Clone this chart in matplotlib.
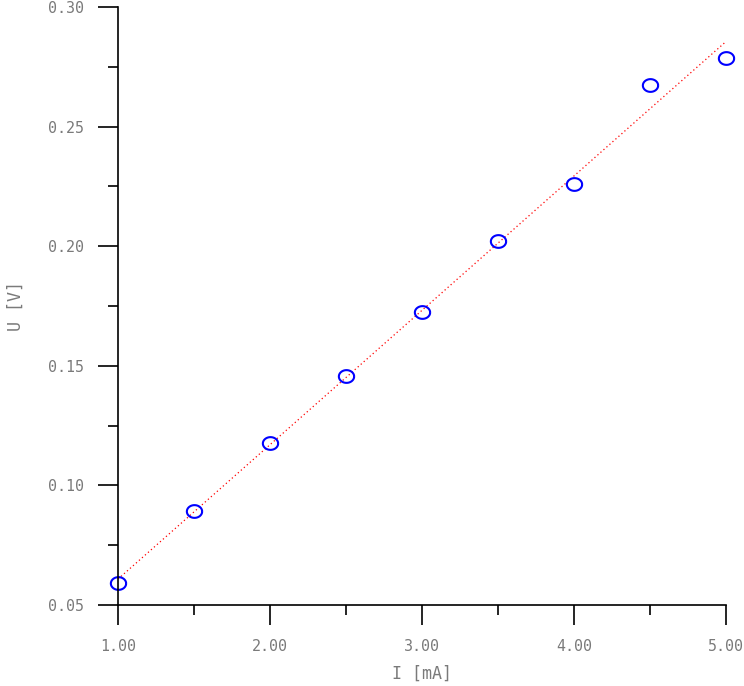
import matplotlib.pyplot as plt
import numpy as np
from matplotlib.path import Path
from matplotlib.ticker import MultipleLocator, FormatStrFormatter

# measured current [mA] and voltage [V]
current = [1.0, 1.5, 2.0, 2.5, 3.0, 3.5, 4.0, 4.5, 5.0]
voltage = [0.0592, 0.0893, 0.1177, 0.1457, 0.1725, 0.2022, 0.2260, 0.2674, 0.2787]

# linear fit through the measurements
slope, intercept = np.polyfit(current, voltage, 1)
fit_x = np.array([1.0, 5.0])
fit_y = slope * fit_x + intercept

# flattened circle marker
t = np.linspace(0, 2 * np.pi, 60)
ellipse = Path(np.column_stack([1.2 * np.cos(t), np.sin(t)]))

label_font = dict(family="DejaVu Sans Mono", size=12, color="#7a7a7a")

fig = plt.figure(figsize=(7.44, 6.86), dpi=100)
ax = fig.add_axes([0.1586, 0.1181, 0.8172, 0.8717])

ax.plot(fit_x, fit_y, color="red", linestyle=(0, (1, 2.2)), linewidth=0.9, clip_on=False)
ax.plot(current, voltage, linestyle="none", marker=ellipse, markersize=11,
        markerfacecolor="none", markeredgecolor="blue", markeredgewidth=1.5, clip_on=False)

ax.set_xlim(1.0, 5.0)
ax.set_ylim(0.05, 0.30)

ax.xaxis.set_major_locator(MultipleLocator(1.0))
ax.xaxis.set_minor_locator(MultipleLocator(0.5))
ax.yaxis.set_major_locator(MultipleLocator(0.05))
ax.yaxis.set_minor_locator(MultipleLocator(0.025))
ax.xaxis.set_major_formatter(FormatStrFormatter("%.2f"))
ax.yaxis.set_major_formatter(FormatStrFormatter("%.2f"))

for side in ["top", "right"]:
    ax.spines[side].set_visible(False)
for side in ["left", "bottom"]:
    ax.spines[side].set_linewidth(1.2)

ax.tick_params(which="major", direction="out", length=14.4, width=1.2, pad=10)
ax.tick_params(which="minor", direction="out", length=7.2, width=1.2)
for lbl in ax.get_xticklabels() + ax.get_yticklabels():
    lbl.set_fontfamily("DejaVu Sans Mono")
    lbl.set_fontsize(10.8)
    lbl.set_color("#7a7a7a")

ax.set_xlabel("I [mA]", labelpad=8, **label_font)
ax.set_ylabel("U [V]", labelpad=17, **label_font)

fig.savefig("out.png", dpi=100)
